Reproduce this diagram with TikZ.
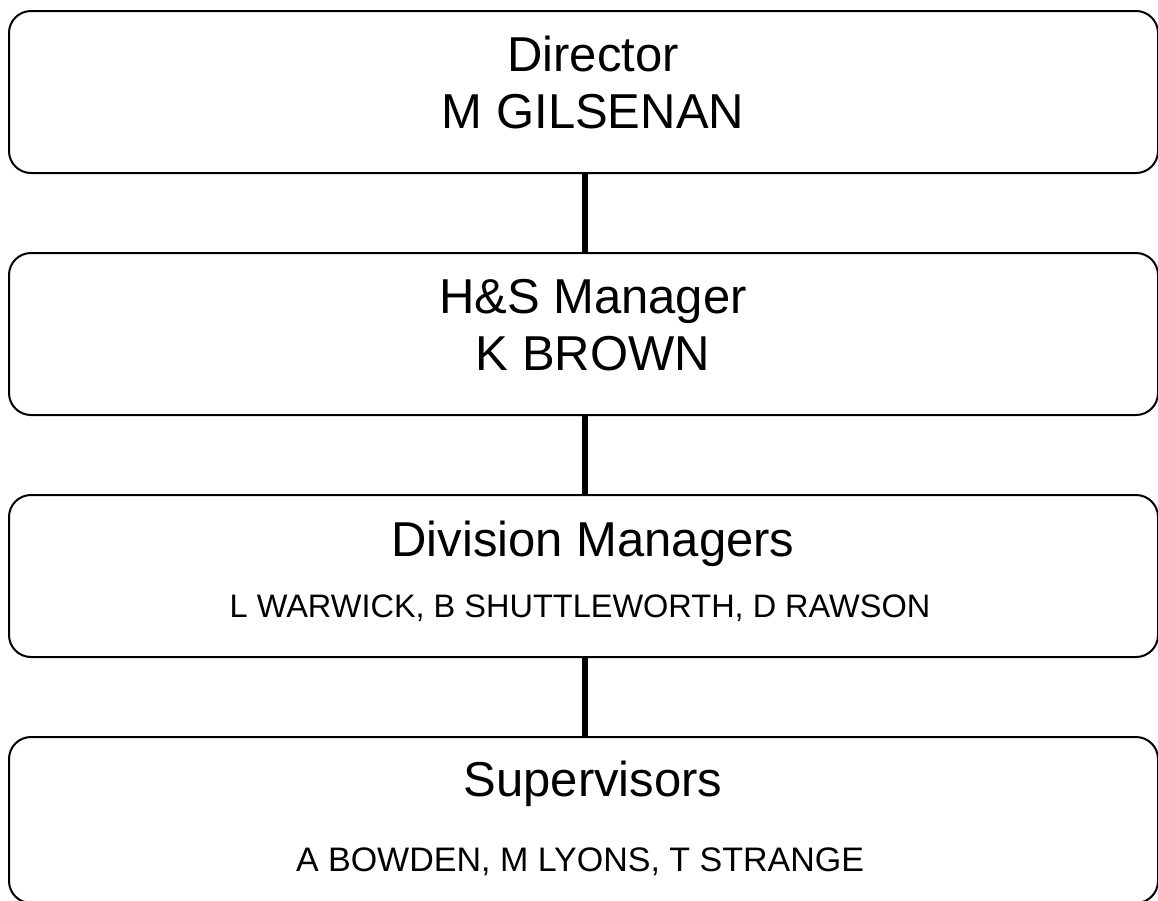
\documentclass[tikz,border=0pt]{standalone}
\usepackage{fontspec}
\setmainfont{Liberation Sans}
\begin{document}
\begin{tikzpicture}[x=1pt,y=-1pt,
  box/.style={draw=black, line width=2pt, rounded corners=22pt, minimum width=1149pt, minimum height=162pt, inner sep=0pt, fill=white},
  titletext/.style={anchor=base, inner sep=0pt, font=\fontsize{49}{57}\selectfont},
  subtext/.style={anchor=base, inner sep=0pt, font=\fontsize{32.5}{38}\selectfont},
  link/.style={line width=5.5pt}]
\useasboundingbox (0,0) rectangle (1158,900);
\node[box] (b1) at (583.5,92) {};
\node[box] (b2) at (583.5,334) {};
\node[box] (b3) at (583.5,576) {};
\node[box, minimum height=166pt] (b4) at (583.5,820) {};
\draw[link] (585,0 |- b1.south) coordinate (c1) -- (c1 |- b2.north);
\draw[link] (585,0 |- b2.south) coordinate (c2) -- (c2 |- b3.north);
\draw[link] (585,0 |- b3.south) coordinate (c3) -- (c3 |- b4.north);
\node[titletext] (t1) at (593,71.7) {Director};
\node[titletext] (t1b) at (593,128.3) {M GILSENAN};
\node[titletext] (t2) at (593,313.7) {H\&S Manager};
\node[titletext] (t2b) at (593,370.3) {K BROWN};
\node[titletext] (t3) at (593,556.5) {Division Managers};
\node[subtext] (t3b) at (580,617) {L WARWICK, B SHUTTLEWORTH, D RAWSON};
\node[titletext] (t4) at (593,796) {Supervisors};
\node[subtext, font=\fontsize{34}{40}\selectfont] (t4b) at (580,871) {A BOWDEN, M LYONS, T STRANGE};
\end{tikzpicture}
\end{document}
